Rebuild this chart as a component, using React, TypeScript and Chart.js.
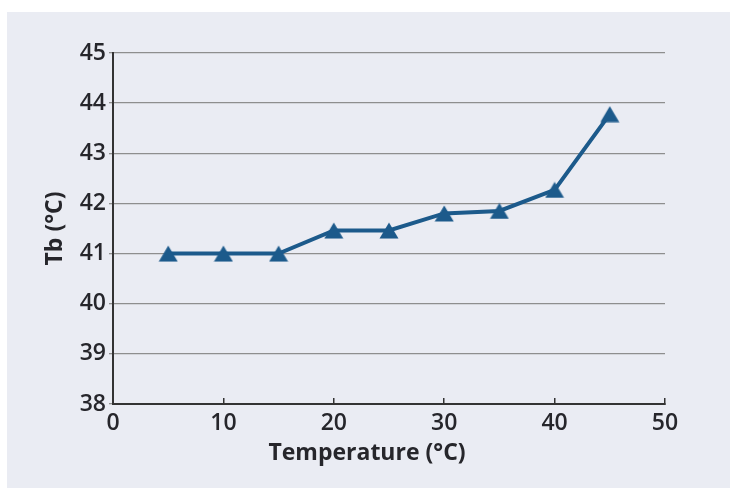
import React, { useEffect, useRef } from "react";
import { Chart, registerables } from "chart.js";

Chart.register(...registerables);

const temperatures = [5, 10, 15, 20, 25, 30, 35, 40, 45];
const bodyTemps = [41.0, 41.0, 41.0, 41.46, 41.46, 41.8, 41.85, 42.27, 43.78];
const xTickValues = [0, 10, 20, 30, 40, 50];
const yTickValues = [38, 39, 40, 41, 42, 43, 44, 45];
const xTitle = "Temperature (°C)";
const yTitle = "Tb (°C)";

const LINE_COLOR = "#1c5a8b";
const TEXT_COLOR = "#26262b";
const FONT = "'Open Sans', 'DejaVu Sans', sans-serif";

function makeTriangle(): HTMLCanvasElement {
  const c = document.createElement("canvas");
  c.width = 20;
  c.height = 17;
  const g = c.getContext("2d")!;
  g.fillStyle = LINE_COLOR;
  g.beginPath();
  g.moveTo(10, 0.5);
  g.lineTo(19.5, 16.5);
  g.lineTo(0.5, 16.5);
  g.closePath();
  g.fill();
  return c;
}

const panelPlugin = {
  id: "panel",
  beforeDraw(chart: any) {
    const ctx = chart.ctx;
    ctx.save();
    ctx.fillStyle = "#ffffff";
    ctx.fillRect(0, 0, chart.width, chart.height);
    ctx.fillStyle = "#eaecf3";
    ctx.fillRect(7, 12, chart.width - 7, chart.height - 12);
    ctx.restore();
  },
  afterDraw(chart: any) {
    const ctx = chart.ctx;
    const area = chart.chartArea;
    ctx.save();
    ctx.fillStyle = TEXT_COLOR;
    ctx.font = `bold 23px ${FONT}`;
    ctx.textAlign = "center";
    ctx.textBaseline = "middle";
    ctx.fillText(xTitle, area.left + 254, area.bottom + 49);
    ctx.translate(55, (area.top + area.bottom) / 2);
    ctx.rotate(-Math.PI / 2);
    ctx.fillText(yTitle, 0, 0);
    ctx.restore();
  },
};

export default function App() {
  const ref = useRef<HTMLCanvasElement | null>(null);
  useEffect(() => {
    if (!ref.current) return;
    const tri = makeTriangle();
    const chart = new Chart(ref.current, {
      type: "scatter",
      data: {
        datasets: [
          {
            label: "Tb",
            data: temperatures.map((t, i) => ({ x: t, y: bodyTemps[i] })),
            showLine: true,
            borderColor: LINE_COLOR,
            backgroundColor: LINE_COLOR,
            borderWidth: 4,
            pointStyle: tri as any,
            pointRadius: 9,
          },
        ],
      },
      options: {
        responsive: false,
        animation: false,
        devicePixelRatio: 1,
        layout: { padding: { top: 53, right: 65, left: 0, bottom: 0 } },
        plugins: { legend: { display: false }, tooltip: { enabled: false } },
        scales: {
          x: {
            type: "linear",
            min: 0,
            max: 50,
            afterFit(scale: any) {
              scale.height = 84;
            },
            afterBuildTicks(scale: any) {
              scale.ticks = xTickValues.map((v) => ({ value: v }));
            },
            ticks: {
              color: TEXT_COLOR,
              font: { family: FONT, size: 23, weight: 600 },
              padding: 12,
              maxRotation: 0,
            },
            grid: {
              drawOnChartArea: false,
              drawTicks: true,
              tickLength: -6,
              color: "#333333",
              lineWidth: 1.5,
            },
            border: { display: true, color: "#333333", width: 2 },
          },
          y: {
            type: "linear",
            min: 38,
            max: 45,
            afterFit(scale: any) {
              scale.width = 113;
            },
            afterBuildTicks(scale: any) {
              scale.ticks = yTickValues.map((v) => ({ value: v }));
            },
            ticks: {
              color: TEXT_COLOR,
              font: { family: FONT, size: 23, weight: 600 },
              padding: 3,
            },
            grid: {
              color: "#8e8e8e",
              lineWidth: 1.3,
              tickLength: 4,
            },
            border: { display: true, color: "#333333", width: 2 },
          },
        },
      },
      plugins: [panelPlugin],
    });
    return () => chart.destroy();
  }, []);
  return (
    <div style={{ position: "absolute", left: 0, top: 0, width: 730, height: 488 }}>
      <canvas ref={ref} width={730} height={488} style={{ display: "block", width: 730, height: 488 }} />
    </div>
  );
}
